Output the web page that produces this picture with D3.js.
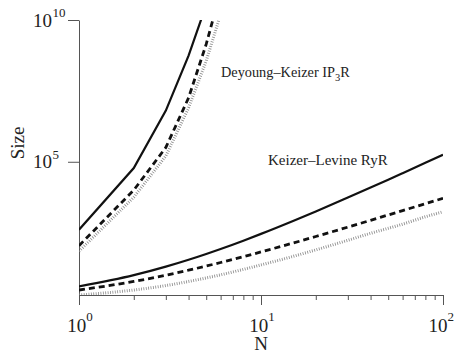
<!DOCTYPE html>
<html>
<head>
<meta charset="utf-8">
<script src="https://cdn.jsdelivr.net/npm/d3@7/dist/d3.min.js"></script>
<style>
html,body{margin:0;padding:0;background:#fff;}
svg{display:block;}
text{font-family:"Liberation Serif","Times New Roman",serif;fill:#222;}
</style>
</head>
<body>
<svg id="chart" width="455" height="355"></svg>
<script>
// ---- data ----
const dkN = [1, 2, 3, 4, 5, 6];
const dkSolid  = [400, 60000, 6.4e6, 5.5e8, 3.4e10, null];
const dkDashed = [110, 10000, 3.2e5, 1.8e7, 1.4e9, 1.0e11];
const dkDotted = [70, 5600, 1.6e5, 8.0e6, 3.6e8, 1.6e10];

const klN      = [1, 2, 3, 4, 5, 6, 8, 10, 15, 20, 30, 40, 50, 60, 80, 100];
const klSolid  = [4, 10, 20, 35, 56, 84, 165, 286, 816, 1770, 5460, 12340, 23400, 39700, 91900, 177000];
const klDashed = [3, 6, 10, 15, 21, 28, 45, 66, 136, 231, 496, 861, 1330, 1890, 3320, 5150];
const klDotted = [2, 3, 4.3, 6, 8, 10.3, 16, 23, 46, 78, 170, 300, 450, 630, 1150, 1720];

const xMajor = [1, 10, 100];
const xMajorExp = ["0", "1", "2"];
const yMajor = [1e5, 1e10];
const yMajorExp = ["5", "10"];
const labels = [
  {text: "Deyoung\u2013Keizer IP", sub: "3", tail: "R", x: 221, y: 77, size: 14.3},
  {text: "Keizer\u2013Levine RyR", sub: null, tail: null, x: 268, y: 165, size: 15}
];

// ---- drawing ----
const svg = d3.select("#chart");
const W = 455;
const x = d3.scaleLog().domain([1, 100]).range([79, 443]);
const y = d3.scaleLog().domain([2, 1e10]).range([295, 20]);

svg.append("defs").append("clipPath").attr("id", "plot")
  .append("rect").attr("x", 79).attr("y", 20).attr("width", 364).attr("height", 275);

const axisColor = "#555";

// x axis: minor ticks
const xMinor = [];
for (let d = 1; d < 100; d *= 10) for (let k = 2; k <= 9; k++) xMinor.push(d * k);
const gxMinor = svg.append("g").attr("transform", "translate(0,295)")
  .call(d3.axisBottom(x).tickValues(xMinor).tickSize(5).tickSizeOuter(0).tickFormat(""));
const gxMajor = svg.append("g").attr("transform", "translate(0,295)")
  .call(d3.axisBottom(x).tickValues(xMajor).tickSize(10).tickSizeOuter(0).tickFormat(""));
[gxMinor, gxMajor].forEach(g => {
  g.selectAll("path,line").attr("stroke", axisColor).attr("stroke-width", 1);
});

// y axis
const gy = svg.append("g").attr("transform", "translate(79,0)")
  .call(d3.axisLeft(y).tickValues(yMajor).tickSize(11).tickSizeOuter(0).tickFormat(""));
gy.selectAll("path,line").attr("stroke", axisColor).attr("stroke-width", 1);

// x tick labels
xMajor.forEach((v, i) => {
  const t = svg.append("text").attr("x", x(v) + 1).attr("y", 332)
    .attr("text-anchor", "middle").attr("font-size", 19);
  t.append("tspan").text("10");
  t.append("tspan").attr("dy", -11).attr("font-size", 13).text(xMajorExp[i]);
  const bb = t.node().getBBox();
  if (bb.x + bb.width > W - 1) t.attr("x", +t.attr("x") - (bb.x + bb.width - (W - 1)));
});
// y tick labels
yMajor.forEach((v, i) => {
  svg.append("text").attr("x", 52).attr("y", y(v) + 6.5)
    .attr("text-anchor", "end").attr("font-size", 19).text("10");
  svg.append("text").attr("x", 52.5).attr("y", y(v) - 3)
    .attr("font-size", 13).text(yMajorExp[i]);
});

// axis titles
svg.append("text").attr("x", 261).attr("y", 350).attr("text-anchor", "middle")
  .attr("font-size", 19).text("N");
svg.append("text").attr("transform", "translate(24,143) rotate(-90)")
  .attr("text-anchor", "middle").attr("font-size", 19).text("Size");

// curves
const plot = svg.append("g").attr("clip-path", "url(#plot)");
const styles = {
  solid:  {stroke: "#111", width: 2.2, dash: null},
  dashed: {stroke: "#111", width: 2.8, dash: "6,4"},
  dotted: {stroke: "#888", width: 3, dash: "0.8,1.6"}
};
function drawLine(ns, vals, st, curve) {
  const data = ns.map((n, i) => [n, vals[i]]).filter(d => d[1] != null);
  const line = d3.line().x(d => x(d[0])).y(d => y(d[1])).curve(curve);
  const s = styles[st];
  plot.append("path").datum(data).attr("d", line)
    .attr("fill", "none").attr("stroke", s.stroke).attr("stroke-width", s.width)
    .attr("stroke-dasharray", s.dash);
}
drawLine(dkN, dkDotted, "dotted", d3.curveLinear);
drawLine(dkN, dkDashed, "dashed", d3.curveLinear);
drawLine(dkN, dkSolid, "solid", d3.curveLinear);
drawLine(klN, klDotted, "dotted", d3.curveMonotoneX);
drawLine(klN, klDashed, "dashed", d3.curveMonotoneX);
drawLine(klN, klSolid, "solid", d3.curveMonotoneX);

// annotations
labels.forEach(l => {
  const t = svg.append("text").attr("x", l.x).attr("y", l.y).attr("font-size", l.size);
  t.append("tspan").text(l.text);
  if (l.sub) {
    t.append("tspan").attr("dy", 4).attr("font-size", 10.5).text(l.sub);
    t.append("tspan").attr("dy", -4).attr("font-size", l.size).text(l.tail);
  }
});
</script>
</body>
</html>
